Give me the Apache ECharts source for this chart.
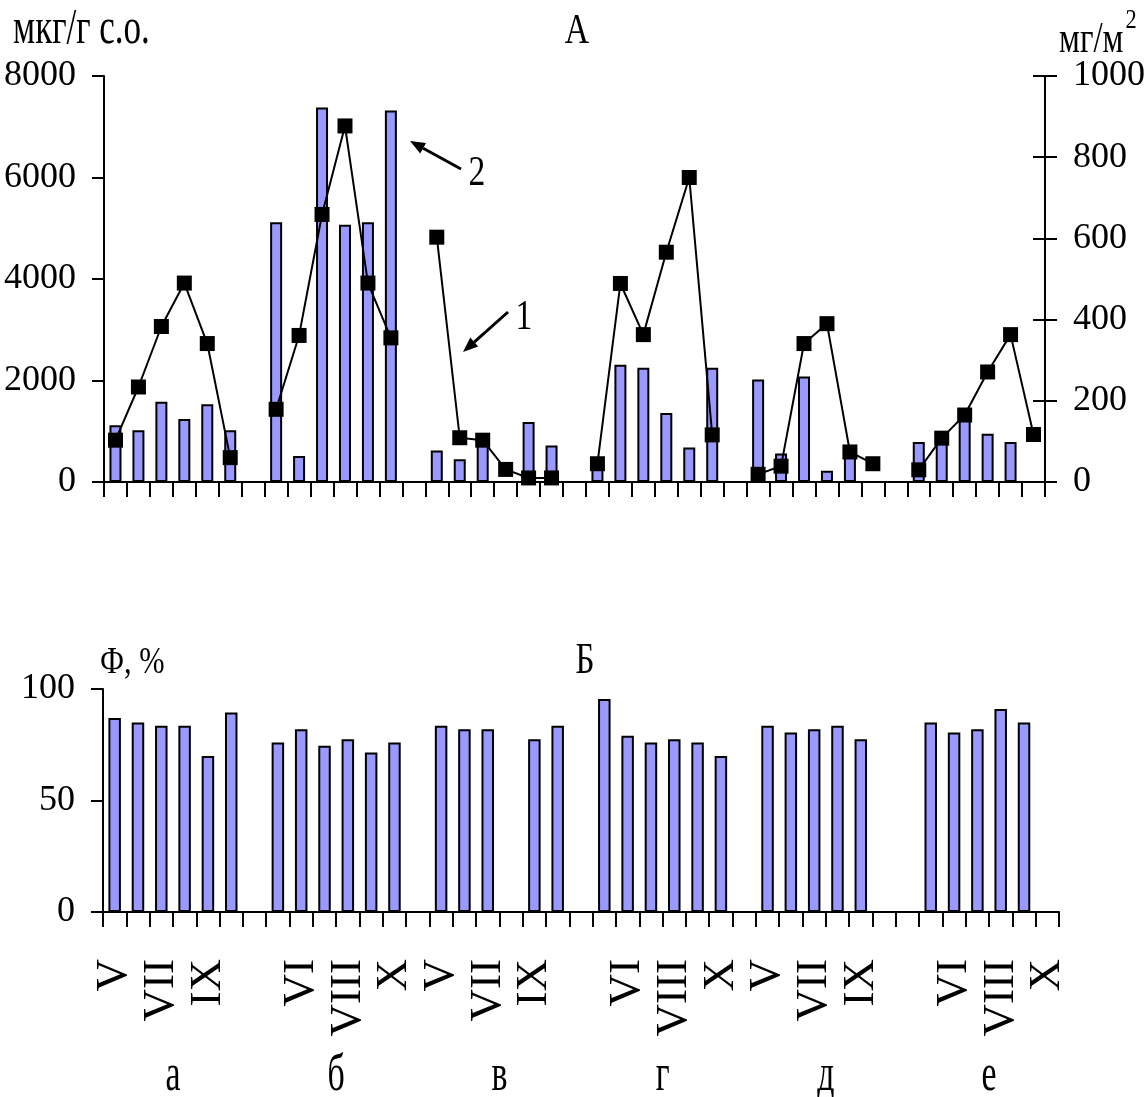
<!DOCTYPE html>
<html>
<head>
<meta charset="utf-8">
<script src="https://cdn.jsdelivr.net/npm/echarts@6/dist/echarts.min.js"></script>
<style>
  html, body { margin: 0; padding: 0; background: #fff; }
  #chart { width: 1146px; height: 1097px; }
</style>
</head>
<body>
<div id="chart"></div>
<script>
const months = ['V', 'VI', 'VII', 'VIII', 'IX', 'X'];
const groups = ['а', 'б', 'в', 'г', 'д', 'е'];

// 2 - мкг/г с.о. (bars, left axis), rows = groups, cols = months V..X
const concBars = [
  [1120, 1020, 1580, 1240, 1530, 1020],
  [5120, 510, 7380, 5070, 5120, 7320],
  [620, 450, 850, null, 1180, 720],
  [300, 2310, 2250, 1360, 680, 2250],
  [2020, 560, 2080, 220, 560, null],
  [790, 800, 1300, 950, 790, null]
];
// 1 - мг/м2 (line, right axis)
const fluxLine = [
  [103, 234, 383, 490, 341, 60],
  [179, 361, 659, 877, 490, 355],
  [603, 109, 103, 31, 10, 10],
  [45, 489, 363, 566, 750, 116],
  [19, 39, 341, 390, 74, 45],
  [30, 108, 165, 271, 363, 117]
];
// Б - Ф, %
const phiBars = [
  [87, 85, 83.5, 83.5, 70, 89.5],
  [76, 82, 74.5, 77.5, 71.5, 76],
  [83.5, 82, 82, null, 77.5, 83.5],
  [95.5, 79, 76, 77.5, 76, 70],
  [83.5, 80.5, 82, 83.5, 77.5, null],
  [85, 80.5, 82, 91, 85, null]
];
// [min, max, step]
const concAxis = [0, 8000, 2000];
const fluxAxis = [0, 1000, 200];
const phiAxis = [0, 100, 50];

const SERIF = '"Liberation Serif", "Times New Roman", serif';

// one empty slot between groups
function withGaps(rows) {
  return rows.flatMap((r, i) => (i < rows.length - 1 ? r.concat([null]) : r));
}
const slotLabels = withGaps(groups.map(() => months)).map(v => v || '');

const black = { color: '#000', width: 2 };

function yAx(grid, range, pos, extra) {
  return Object.assign({
    gridIndex: grid, type: 'value', position: pos,
    min: range[0], max: range[1], interval: range[2],
    axisLine: { show: true, lineStyle: black },
    axisTick: { show: true, length: 12, lineStyle: black },
    splitLine: { show: false },
    axisLabel: {
      fontFamily: SERIF, fontSize: 36, color: '#000', margin: 28,
      formatter: v => String(v)
    }
  }, extra || {});
}

function xAx(grid, labels) {
  return {
    gridIndex: grid, type: 'category', data: slotLabels,
    axisLine: { show: true, lineStyle: black },
    axisTick: { show: true, length: 15, interval: 0, alignWithLabel: false, lineStyle: black },
    axisLabel: labels ? {
      show: true, interval: 1, rotate: 90, fontFamily: SERIF, fontSize: 45,
      color: '#000', margin: 47
    } : { show: false }
  };
}

const barStyle = { color: '#9999ff', borderColor: '#000', borderWidth: 2 };

const chart = echarts.init(document.getElementById('chart'));
chart.setOption({
  animation: false,
  backgroundColor: '#fff',
  grid: [
    { left: 104, top: 76, width: 941, height: 406, outerBoundsMode: 'none', containLabel: false },
    { left: 103, top: 689, width: 956, height: 223, outerBoundsMode: 'none', containLabel: false }
  ],
  xAxis: [xAx(0, false), xAx(1, true)],
  yAxis: [
    yAx(0, concAxis, 'left'),
    yAx(0, fluxAxis, 'right'),
    yAx(0, fluxAxis, 'right', {
      axisLine: { show: false },
      axisTick: { show: true, inside: true, length: 12, lineStyle: black },
      axisLabel: { show: false }
    }),
    yAx(1, phiAxis, 'left')
  ],
  series: [
    {
      type: 'bar', xAxisIndex: 0, yAxisIndex: 0,
      data: withGaps(concBars), barWidth: 12, itemStyle: barStyle
    },
    {
      type: 'line', xAxisIndex: 0, yAxisIndex: 1,
      data: withGaps(fluxLine), symbol: 'rect', symbolSize: 15,
      lineStyle: { color: '#000', width: 2 }, itemStyle: { color: '#000' }
    },
    {
      type: 'bar', xAxisIndex: 1, yAxisIndex: 3,
      data: withGaps(phiBars), barWidth: 12.5, itemStyle: barStyle
    }
  ]
});

function txt(x, y, text, size, align, sx) {
  return {
    type: 'text', x: x, y: y, scaleX: sx || 0.8,
    style: {
      text: text, font: size + 'px ' + SERIF, fill: '#000',
      textAlign: align, textVerticalAlign: 'middle',
      align: align, verticalAlign: 'middle'
    }
  };
}

function arrow(x1, y1, x2, y2) {
  const len = Math.hypot(x2 - x1, y2 - y1);
  const ux = (x2 - x1) / len, uy = (y2 - y1) / len;
  const bx = x2 - ux * 15, by = y2 - uy * 15;
  return [
    { type: 'line', shape: { x1: x1, y1: y1, x2: bx, y2: by },
      style: { stroke: '#000', lineWidth: 3 } },
    { type: 'polygon',
      shape: { points: [[x2, y2], [bx - uy * 6, by + ux * 6], [bx + uy * 6, by - ux * 6]] },
      style: { fill: '#000' } }
  ];
}

// group letters under the bottom axis, centred on each group of six
const letters = groups.map((g, i) => {
  const a = chart.convertToPixel({ xAxisIndex: 1 }, i * 7 + 2);
  const b = chart.convertToPixel({ xAxisIndex: 1 }, i * 7 + 3);
  return txt((a + b) / 2, 1076, g, 52, 'center', 0.65);
});

chart.setOption({
  graphic: [
    txt(13, 30, 'мкг/г с.о.', 50, 'left', 0.7),
    txt(577, 32, 'А', 42, 'center', 0.8),
    txt(1059, 40, 'мг/м', 44, 'left', 0.75),
    txt(1131, 21, '2', 28, 'center', 0.8),
    txt(100, 663, 'Ф, %', 38, 'left', 0.8),
    txt(585, 661, 'Б', 44, 'center', 0.75),
    txt(477, 174, '2', 42, 'center', 0.8),
    txt(524, 318, '1', 42, 'center', 0.8)
  ].concat(arrow(461, 169, 410, 141), arrow(508, 312, 463, 352), letters)
});
</script>
</body>
</html>
